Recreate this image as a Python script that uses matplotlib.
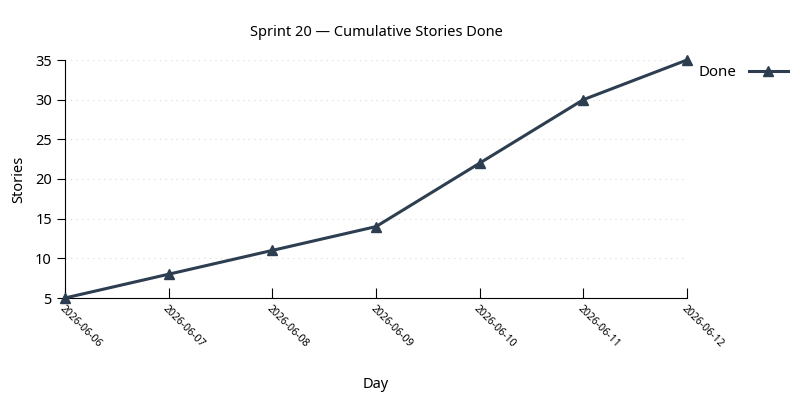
import matplotlib
matplotlib.use('Agg')
import matplotlib.pyplot as plt

# Data
days = ['2026-06-06', '2026-06-07', '2026-06-08', '2026-06-09',
        '2026-06-10', '2026-06-11', '2026-06-12']
done = [5, 8, 11, 14, 22, 30, 35]

plt.rcParams['font.family'] = ['Noto Sans', 'DejaVu Sans']

fig = plt.figure(figsize=(8, 4), dpi=100)
ax = fig.add_axes([0.08125, 0.255, 0.7775, 0.595])

x = range(len(days))
ax.plot(x, done, color='#2c3e50', linewidth=2.2, marker='^', markersize=7,
        label='Done', clip_on=False, zorder=3)

ax.set_xlim(0, len(days) - 1)
ax.set_ylim(5, 35)
ax.set_yticks([5, 10, 15, 20, 25, 30, 35])
ax.set_xticks(list(x))
ax.set_xticklabels(days, rotation=-45, ha='left', va='top', rotation_mode='anchor', fontsize=7.5)
ax.tick_params(axis='x', direction='in', length=7, pad=4)
ax.tick_params(axis='y', direction='out', length=6, labelsize=10.5)

ax.grid(axis='y', linestyle=(0, (1, 4)), color='#d8d8d8', linewidth=0.8)
ax.set_axisbelow(True)
for s in ['top', 'right']:
    ax.spines[s].set_visible(False)

ax.set_title('Sprint 20 \u2014 Cumulative Stories Done', fontsize=10.5, pad=17)
ax.set_xlabel('Day', fontsize=10.5)
ax.xaxis.set_label_coords(0.5, -0.33)
ax.set_ylabel('Stories', fontsize=10.5)
ax.yaxis.set_label_coords(-0.062, 0.5)

ax.legend(loc='upper left', bbox_to_anchor=(0.997, 1.035), frameon=False, markerfirst=False,
          fontsize=10.8, handlelength=2.6)

fig.savefig('out.png', dpi=100)
